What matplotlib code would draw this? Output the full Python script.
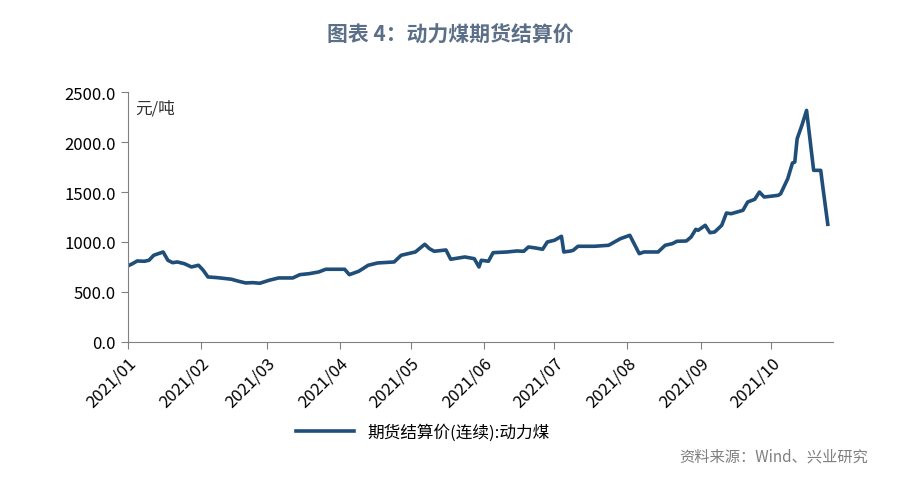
import matplotlib
matplotlib.use('Agg')
import matplotlib.pyplot as plt
import matplotlib.dates as mdates
import pandas as pd

plt.rcParams['font.family'] = ['Noto Sans CJK SC', 'DejaVu Sans']

# settlement price (yuan/ton)
dates = ['2021-01-01', '2021-01-03', '2021-01-05', '2021-01-08', '2021-01-10', '2021-01-12',
         '2021-01-16', '2021-01-18', '2021-01-20', '2021-01-22', '2021-01-25', '2021-01-28',
         '2021-01-31', '2021-02-02', '2021-02-04', '2021-02-08', '2021-02-14', '2021-02-17',
         '2021-02-20', '2021-02-23', '2021-02-26', '2021-03-02', '2021-03-06', '2021-03-12',
         '2021-03-15', '2021-03-19', '2021-03-23', '2021-03-26', '2021-04-03', '2021-04-05',
         '2021-04-09', '2021-04-13', '2021-04-17', '2021-04-24', '2021-04-27', '2021-05-03',
         '2021-05-07', '2021-05-09', '2021-05-11', '2021-05-16', '2021-05-18', '2021-05-24',
         '2021-05-28', '2021-05-30', '2021-05-31', '2021-06-03', '2021-06-05', '2021-06-11',
         '2021-06-15', '2021-06-18', '2021-06-20', '2021-06-23', '2021-06-26', '2021-06-28',
         '2021-07-01', '2021-07-04', '2021-07-05', '2021-07-08', '2021-07-09', '2021-07-11',
         '2021-07-18', '2021-07-24', '2021-07-29', '2021-08-02', '2021-08-06', '2021-08-08',
         '2021-08-14', '2021-08-17', '2021-08-20', '2021-08-22', '2021-08-26', '2021-08-28',
         '2021-08-30', '2021-08-31', '2021-09-03', '2021-09-05', '2021-09-07', '2021-09-10',
         '2021-09-12', '2021-09-14', '2021-09-19', '2021-09-21', '2021-09-24', '2021-09-26',
         '2021-09-28', '2021-10-04', '2021-10-05', '2021-10-08', '2021-10-10', '2021-10-11',
         '2021-10-12', '2021-10-14', '2021-10-16', '2021-10-19', '2021-10-22', '2021-10-23',
         '2021-10-25']
prices = [760, 783, 810, 807, 817, 867,
          900, 817, 793, 800, 783, 750,
          767, 717, 650, 643, 627, 607,
          590, 593, 587, 617, 640, 640,
          673, 683, 700, 727, 727, 673,
          707, 767, 790, 800, 867, 900,
          977, 933, 907, 920, 827, 850,
          833, 750, 817, 807, 893, 900,
          910, 907, 950, 940, 927, 1000,
          1017, 1057, 900, 910, 917, 957,
          957, 967, 1033, 1067, 883, 900,
          900, 967, 983, 1007, 1010, 1050,
          1127, 1117, 1167, 1093, 1100, 1167,
          1290, 1283, 1317, 1400, 1427, 1500,
          1450, 1467, 1483, 1633, 1790, 1800,
          2033, 2167, 2317, 1717, 1717, 1533,
          1177]
yticks = [0, 500, 1000, 1500, 2000, 2500]
month_ticks = pd.date_range('2021-01-01', '2021-10-01', freq='MS')

line_color = '#1f4e79'

fig = plt.figure(figsize=(9, 4.85), dpi=100)
ax = fig.add_axes([0.142, 0.293, 0.783, 0.515])

ax.plot(pd.to_datetime(dates), prices, color=line_color, lw=2.6,
        label='期货结算价(连续):动力煤')

ax.set_ylim(0, 2500)
ax.set_yticks(yticks)
ax.set_yticklabels([f'{v:.1f}' for v in yticks], fontsize=12)
ax.set_xlim(pd.Timestamp('2021-01-01'), pd.Timestamp('2021-10-27'))
ax.set_xticks(month_ticks)
ax.xaxis.set_major_formatter(mdates.DateFormatter('%Y/%m'))
plt.setp(ax.get_xticklabels(), rotation=45, ha='right', rotation_mode='anchor', fontsize=12)

for s in ['top', 'right']:
    ax.spines[s].set_visible(False)
for s in ['left', 'bottom']:
    ax.spines[s].set_color('#808080')
ax.tick_params(colors='#808080', labelcolor='black', length=5)

ax.text(0.01, 0.97, '元/吨', transform=ax.transAxes, fontsize=12, va='top', color='#333333')

fig.text(0.5, 0.915, '图表 4：动力煤期货结算价', ha='center', fontsize=15,
         fontweight='bold', color='#5b7088')
fig.legend(loc='center', bbox_to_anchor=(0.47, 0.107), frameon=False, fontsize=12,
           handlelength=3.5)
fig.text(0.965, 0.048, '资料来源：Wind、兴业研究', ha='right', fontsize=11, color='#7f7f7f')

fig.savefig('out.png', dpi=100)
